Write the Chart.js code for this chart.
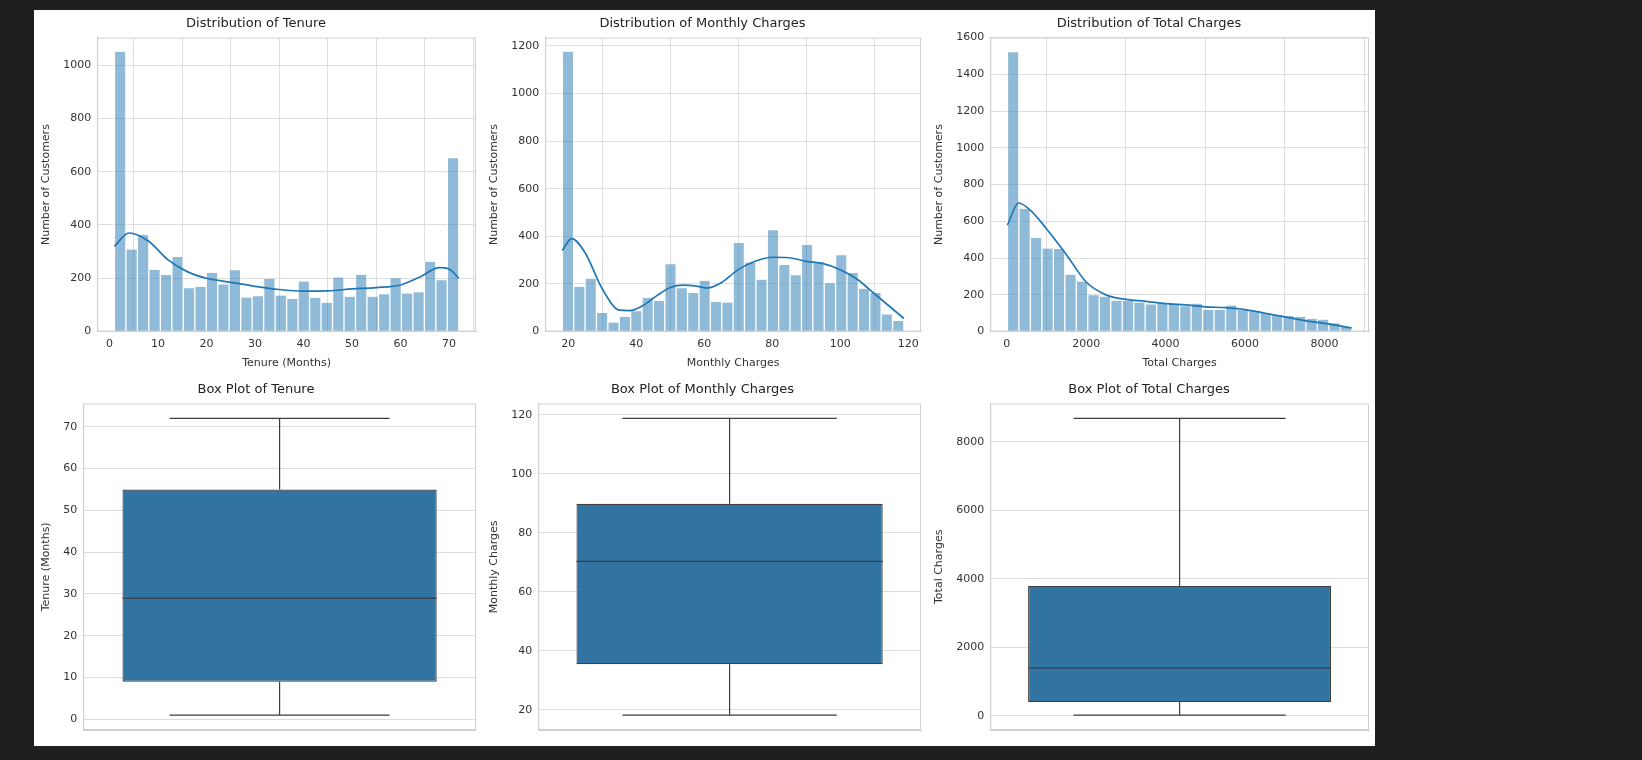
<!DOCTYPE html>
<html><head><meta charset="utf-8">
<script src="https://cdn.jsdelivr.net/npm/chart.js@4"></script>
<style>
body{margin:0;background:#1f1f1f;width:1642px;height:760px;overflow:hidden;font-family:"DejaVu Sans"}
#fig{position:absolute;left:34px;top:10px;width:1341px;height:736px;background:#fff}
.p{position:absolute}
</style></head><body>
<div id="fig">
<div class="p" style="left:0;top:0;width:448px;height:366px"><canvas id="h1"></canvas></div>
<div class="p" style="left:448px;top:0;width:445px;height:366px"><canvas id="h2"></canvas></div>
<div class="p" style="left:893px;top:0;width:448px;height:366px"><canvas id="h3"></canvas></div>
<div class="p" style="left:0;top:366px;width:448px;height:370px"><canvas id="b1"></canvas></div>
<div class="p" style="left:448px;top:366px;width:445px;height:370px"><canvas id="b2"></canvas></div>
<div class="p" style="left:893px;top:366px;width:448px;height:370px"><canvas id="b3"></canvas></div>
</div>
<script>
// histogram counts (30 bins each)
const tenureCounts = [1050,308,362,232,212,280,163,168,220,177,230,128,133,197,135,122,188,127,108,203,131,213,131,140,200,143,148,262,193,650];
const monthlyCounts = [1175,188,222,78,38,62,85,142,128,283,182,162,213,124,122,372,290,218,425,280,237,363,292,203,320,246,180,162,72,45];
const totalCounts = [1520,668,510,452,450,310,272,198,190,168,168,158,148,150,150,138,152,118,118,142,118,110,102,90,85,80,70,65,45,25];
const tenureRange = [1,72], monthlyRange = [18.25,118.75], totalRange = [18.8,8684.8];
// kde curves [x,y]
const tenureKde = [[1,320],[4,370],[8,340],[12,270],[16,225],[20,200],[25,185],[30,170],[35,158],[40,152],[45,153],[50,160],[55,165],[60,175],[64,205],[68,240],[70,235],[72,200]];
const monthlyKde = [[18.25,340],[21,390],[25,330],[30,180],[35,90],[38,88],[42,110],[46,150],[50,185],[54,195],[58,190],[61,183],[65,205],[70,260],[75,295],[80,312],[85,310],[90,295],[95,285],[100,260],[105,220],[110,160],[115,100],[118.75,55]];
const totalKde = [[18.8,580],[300,700],[600,660],[1000,560],[1500,420],[2000,270],[2500,200],[3000,175],[3500,165],[4000,152],[4500,145],[5000,135],[5500,130],[6000,120],[6500,100],[7000,80],[7500,60],[8000,45],[8684.8,20]];
// box stats: min, q1, median, q3, max
const tenureBox = [1,9,29,55,72];
const monthlyBox = [18.25,35.5,70.35,89.85,118.75];
const totalBox = [18.8,401,1397,3794,8684.8];
// tick labels
const tenureTicks = [0,10,20,30,40,50,60,70];
const monthlyTicks = [20,40,60,80,100,120];
const totalTicks = [0,2000,4000,6000,8000];
const count1Ticks = [0,200,400,600,800,1000];
const count2Ticks = [0,200,400,600,800,1000,1200];
const count3Ticks = [0,200,400,600,800,1000,1200,1400,1600];

Chart.defaults.font.family = "DejaVu Sans";
Chart.defaults.color = "#333";
Chart.defaults.animation = false;
const grid = {color:"#dddddd", drawTicks:false};
const border = {color:"#d0d0d0"};
const fixed = vals => axis => { axis.ticks = vals.map(v => ({value:v})); };

// full frame round the plot area, like matplotlib spines
const frame = {
  id:"frame",
  afterDraw(chart){
    const a = chart.chartArea, ctx = chart.ctx;
    ctx.save(); ctx.strokeStyle="#d0d0d0"; ctx.lineWidth=1;
    ctx.strokeRect(a.left+0.5, a.top+0.5, a.right-a.left-1, a.bottom-a.top-1);
    ctx.restore();
  }
};

function histogram(id, title, xlabel, counts, range, kde, ymax, yticks, xticks) {
  const w = (range[1]-range[0])/counts.length;
  const pad = (range[1]-range[0])*0.05;
  new Chart(document.getElementById(id), {
    type:"bar",
    data:{datasets:[
      {type:"line", data:kde.map(p=>({x:p[0],y:p[1]})), borderColor:"#1f77b4", borderWidth:1.7, pointRadius:0, cubicInterpolationMode:"monotone"},
      {data:counts.map((c,i)=>({x:range[0]+w*(i+0.5), y:c})), backgroundColor:"rgba(31,119,180,0.5)", borderColor:"#ffffff", borderWidth:{left:1,right:1}, barPercentage:1, categoryPercentage:1, grouped:false}
    ]},
    plugins:[frame],
    options:{responsive:true, maintainAspectRatio:false,
      layout:{padding:{left:2,right:6,top:2,bottom:2}},
      plugins:{legend:{display:false}, tooltip:{enabled:false},
        title:{display:true,text:title,font:{size:13,weight:"normal"},color:"#222",padding:{top:4,bottom:6}}},
      scales:{
        x:{type:"linear", min:range[0]-pad, max:range[1]+pad, offset:false, grid, border,
           afterBuildTicks:fixed(xticks), ticks:{font:{size:11}, padding:6, callback:v=>String(v)},
           title:{display:true,text:xlabel,font:{size:11},padding:{top:0}}},
        y:{min:0, max:ymax, grid, border, afterBuildTicks:fixed(yticks),
           ticks:{font:{size:11},padding:6, callback:v=>String(v)},
           title:{display:true,text:"Number of Customers",font:{size:11}}}
      }}
  });
}

const boxPlugin = {
  id:"whiskers",
  afterDatasetsDraw(chart){
    const s = chart.options.plugins.whiskers.stats;
    const bar = chart.getDatasetMeta(0).data[0];
    const y = chart.scales.y, ctx = chart.ctx;
    const half = bar.width/2, cap = half*0.7;
    ctx.save(); ctx.strokeStyle="#3d3d3d"; ctx.lineWidth=1.2;
    const line=(x1,y1,x2,y2)=>{ctx.beginPath();ctx.moveTo(x1,y1);ctx.lineTo(x2,y2);ctx.stroke();};
    line(bar.x, y.getPixelForValue(s[0]), bar.x, y.getPixelForValue(s[1]));
    line(bar.x, y.getPixelForValue(s[3]), bar.x, y.getPixelForValue(s[4]));
    line(bar.x-cap, y.getPixelForValue(s[0]), bar.x+cap, y.getPixelForValue(s[0]));
    line(bar.x-cap, y.getPixelForValue(s[4]), bar.x+cap, y.getPixelForValue(s[4]));
    line(bar.x-half, y.getPixelForValue(s[2]), bar.x+half, y.getPixelForValue(s[2]));
    ctx.restore();
  }
};

function boxplot(id, title, ylabel, stats, yticks) {
  const pad = (stats[4]-stats[0])*0.05;
  new Chart(document.getElementById(id), {
    type:"bar",
    data:{labels:[""], datasets:[{data:[[stats[1],stats[3]]], backgroundColor:"#3274a1", borderColor:"#3d3d3d", borderWidth:1.2, borderSkipped:false, barPercentage:0.8, categoryPercentage:1}]},
    plugins:[boxPlugin, frame],
    options:{responsive:true, maintainAspectRatio:false,
      layout:{padding:{left:2,right:6,top:2,bottom:8}},
      plugins:{legend:{display:false}, tooltip:{enabled:false}, whiskers:{stats},
        title:{display:true,text:title,font:{size:13,weight:"normal"},color:"#222",padding:{top:4,bottom:6}}},
      scales:{
        x:{grid:{display:false}, border, ticks:{display:false}},
        y:{min:stats[0]-pad, max:stats[4]+pad, grid, border, afterBuildTicks:fixed(yticks),
           ticks:{font:{size:11}, padding:6, callback:v=>String(v)},
           title:{display:true,text:ylabel,font:{size:11}}}
      }}
  });
}

histogram("h1","Distribution of Tenure","Tenure (Months)",tenureCounts,tenureRange,tenureKde,1103,count1Ticks,tenureTicks);
histogram("h2","Distribution of Monthly Charges","Monthly Charges",monthlyCounts,monthlyRange,monthlyKde,1234,count2Ticks,monthlyTicks);
histogram("h3","Distribution of Total Charges","Total Charges",totalCounts,totalRange,totalKde,1600,count3Ticks,totalTicks);
boxplot("b1","Box Plot of Tenure","Tenure (Months)",tenureBox,[0,10,20,30,40,50,60,70]);
boxplot("b2","Box Plot of Monthly Charges","Monthly Charges",monthlyBox,[20,40,60,80,100,120]);
boxplot("b3","Box Plot of Total Charges","Total Charges",totalBox,[0,2000,4000,6000,8000]);
</script>
</body></html>
